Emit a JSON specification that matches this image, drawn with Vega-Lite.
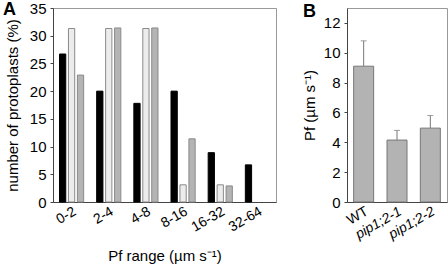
{
  "$schema": "https://vega.github.io/schema/vega-lite/v6.json",
  "padding": {"left": 2, "top": 0, "right": 2, "bottom": 0},
  "bounds": "flush",
  "spacing": 71,
  "config": {
    "font": "Liberation Sans",
    "view": {"stroke": "#999", "strokeWidth": 1},
    "axis": {"labelFont": "Liberation Sans", "titleFont": "Liberation Sans", "labelFontSize": 15, "titleFontSize": 15, "titleFontWeight": "normal", "labelColor": "#000", "titleColor": "#000", "domainColor": "#444", "tickColor": "#444", "grid": false, "labelOverlap": false},
    "title": {"font": "Liberation Sans", "fontSize": 18, "fontWeight": "bold", "anchor": "start", "frame": "group", "color": "#000"}
  },
  "hconcat": [
    {
      "title": {"text": "A", "dx": -50, "offset": -18},
      "width": 223,
      "height": 194,
      "data": {"values": [
        {"range": "0-2", "series": "s1", "pct": 26.7},
        {"range": "0-2", "series": "s2", "pct": 31.3},
        {"range": "0-2", "series": "s3", "pct": 22.9},
        {"range": "2-4", "series": "s1", "pct": 20.0},
        {"range": "2-4", "series": "s2", "pct": 31.3},
        {"range": "2-4", "series": "s3", "pct": 31.4},
        {"range": "4-8", "series": "s1", "pct": 17.8},
        {"range": "4-8", "series": "s2", "pct": 31.3},
        {"range": "4-8", "series": "s3", "pct": 31.4},
        {"range": "8-16", "series": "s1", "pct": 20.0},
        {"range": "8-16", "series": "s2", "pct": 3.1},
        {"range": "8-16", "series": "s3", "pct": 11.4},
        {"range": "16-32", "series": "s1", "pct": 8.9},
        {"range": "16-32", "series": "s2", "pct": 3.1},
        {"range": "16-32", "series": "s3", "pct": 2.9},
        {"range": "32-64", "series": "s1", "pct": 6.7}
      ]},
      "mark": {"type": "bar", "strokeWidth": 1},
      "encoding": {
        "x": {"field": "range", "type": "nominal", "sort": ["0-2", "2-4", "4-8", "8-16", "16-32", "32-64"],
          "scale": {"paddingInner": 0.35, "paddingOuter": 0.175},
          "axis": {"title": "Pf range (µm s⁻¹)", "labelAngle": -30, "labelFontSize": 14, "ticks": false, "labelPadding": 2, "titlePadding": 14}},
        "xOffset": {"field": "series", "type": "nominal", "scale": {"domain": ["s1", "s2", "s3"], "paddingInner": 0.3, "paddingOuter": 0}},
        "y": {"field": "pct", "type": "quantitative", "scale": {"domain": [0, 35], "nice": false},
          "axis": {"title": "number of protoplasts (%)", "values": [0, 5, 10, 15, 20, 25, 30, 35], "tickSize": 3, "labelPadding": 4, "titlePadding": 9}},
        "fill": {"field": "series", "type": "nominal", "scale": {"domain": ["s1", "s2", "s3"], "range": ["#000000", "#ececec", "#b4b4b4"]}, "legend": null},
        "stroke": {"field": "series", "type": "nominal", "scale": {"domain": ["s1", "s2", "s3"], "range": ["#000000", "#8a8a8a", "#8a8a8a"]}, "legend": null}
      }
    },
    {
      "title": {"text": "B", "dx": -44, "offset": -13},
      "width": 100,
      "height": 194,
      "data": {"values": [
        {"g": "WT", "m": 9.1, "hi": 10.8},
        {"g": "pip1;2-1", "m": 4.15, "hi": 4.8},
        {"g": "pip1;2-2", "m": 4.95, "hi": 5.8}
      ]},
      "encoding": {
        "x": {"field": "g", "type": "nominal", "sort": null,
          "scale": {"paddingInner": 0.4, "paddingOuter": 0.2},
          "axis": {"title": null, "labelAngle": -30, "labelFontSize": 14, "ticks": false, "labelPadding": 2,
            "labelFontStyle": {"condition": {"test": "datum.value == 'WT'", "value": "normal"}, "value": "italic"}}},
        "y": {"field": "m", "type": "quantitative", "scale": {"domain": [0, 13], "nice": false},
          "axis": {"title": "Pf (µm s⁻¹)", "values": [0, 2, 4, 6, 8, 10, 12], "tickSize": 3, "labelPadding": 4, "titlePadding": 6}}
      },
      "layer": [
        {"mark": {"type": "rule", "color": "#777", "strokeWidth": 1},
          "encoding": {"y2": {"field": "hi"}}},
        {"mark": {"type": "tick", "color": "#777", "size": 6, "thickness": 1},
          "encoding": {"y": {"field": "hi", "type": "quantitative"}}},
        {"mark": {"type": "bar", "fill": "#b3b3b3", "stroke": "#777", "strokeWidth": 1}}
      ]
    }
  ]
}
